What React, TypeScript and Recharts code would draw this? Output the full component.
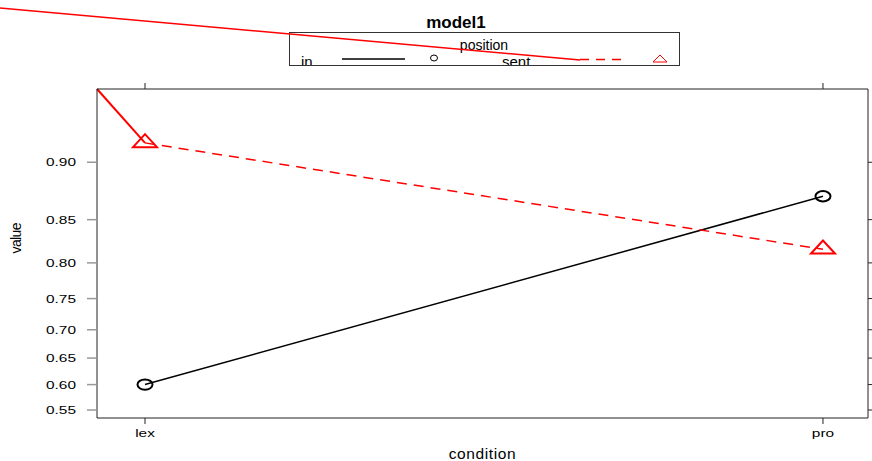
import React from "react";
import { LineChart, Line, XAxis, YAxis, ReferenceLine } from "recharts";

const categories = ["lex", "pro"];
const inValues = [0.6, 0.8725];
const sentValues = [0.9132, 0.817];
const yTickValues = [0.55, 0.6, 0.65, 0.7, 0.75, 0.8, 0.85, 0.9];
const yDomainProb = [0.534, 0.942];
const xDomain = [0.9292, 2.0664];

const logit = (p: number) => Math.log(p / (1 - p));
const invLogit = (z: number) => 1 / (1 + Math.exp(-z));

const data = categories.map((c, i) => ({
  x: i + 1,
  name: c,
  inV: logit(inValues[i]),
  sentV: logit(sentValues[i]),
}));

const yTicks = yTickValues.map(logit);
const yDomain = yDomainProb.map(logit);

const font = "'Liberation Sans', Arial, Helvetica, sans-serif";
const STRETCH = 1.4;

const CircleDot = (props: any) => {
  const { cx, cy } = props;
  if (cx == null || cy == null) return null;
  return <ellipse cx={cx} cy={cy} rx={7.5} ry={5.2} fill="none" stroke="#000" strokeWidth={2} />;
};

const TriDot = (props: any) => {
  const { cx, cy } = props;
  if (cx == null || cy == null) return null;
  const pts = `${cx - 12},${cy + 4.3} ${cx + 12},${cy + 4.3} ${cx},${cy - 8.7}`;
  return <polygon points={pts} fill="none" stroke="#ff0000" strokeWidth={2} />;
};

const YTick = (props: any) => {
  const { x, y, payload } = props;
  const label = invLogit(payload.value).toFixed(2);
  return (
    <g transform={`translate(${x},${y}) scale(${STRETCH},1)`}>
      <text x={0} y={0} dy={4} textAnchor="end" fontFamily={font} fontSize={11} fill="#000">
        {label}
      </text>
    </g>
  );
};

const XTick = (props: any) => {
  const { x, y, payload } = props;
  const label = categories[payload.value - 1] ?? "";
  return (
    <g transform={`translate(${x},${y}) scale(${STRETCH},1)`}>
      <text x={0} y={0} dy={9} textAnchor="middle" fontFamily={font} fontSize={11} fill="#000">
        {label}
      </text>
    </g>
  );
};

export default function App() {
  return (
    <div style={{ position: "fixed", left: 0, top: 0, width: 872, height: 461, background: "#fff" }}>
      <LineChart width={872} height={461} data={data} margin={{ top: 83, right: 0, bottom: 0, left: 0 }}>
        <XAxis
          dataKey="x"
          type="number"
          domain={xDomain}
          ticks={[1, 2]}
          allowDataOverflow
          height={43}
          tickSize={6}
          tickMargin={4}
          stroke="#222"
          tick={<XTick />}
          label={{ value: "condition", position: "insideBottom", offset: 2, fill: "#000", fontSize: 15.5, fontFamily: font, letterSpacing: 0.6 }}
        />
        <XAxis
          xAxisId="top"
          dataKey="x"
          type="number"
          orientation="top"
          domain={xDomain}
          ticks={[1, 2]}
          allowDataOverflow
          height={6}
          tickSize={6}
          stroke="#222"
          tickFormatter={() => ""}
        />
        <YAxis
          type="number"
          domain={yDomain}
          ticks={yTicks}
          allowDataOverflow
          width={97}
          tickSize={10}
          tickMargin={11}
          stroke="#222"
          tickLine={{ stroke: "#999", strokeWidth: 1.5 }}
          tick={<YTick />}
          label={{
            value: "value",
            angle: -90,
            position: "insideLeft",
            offset: 16,
            fill: "#000",
            fontSize: 14,
            letterSpacing: -0.6,
            fontFamily: font,
          }}
        />
        <YAxis
          yAxisId="right"
          orientation="right"
          type="number"
          domain={yDomain}
          ticks={yTicks}
          allowDataOverflow
          width={4}
          tickSize={4}
          stroke="#222"
          tickFormatter={() => ""}
        />
        <ReferenceLine
          segment={[
            { x: xDomain[0], y: yDomain[1] },
            { x: 1, y: logit(sentValues[0]) },
          ]}
          stroke="#ff0000"
          strokeWidth={2}
        />
        <Line
          dataKey="inV"
          stroke="#000"
          strokeWidth={1.5}
          dot={<CircleDot />}
          activeDot={false}
          isAnimationActive={false}
        />
        <Line
          dataKey="sentV"
          stroke="#ff0000"
          strokeWidth={1.5}
          strokeDasharray="10 7"
          dot={<TriDot />}
          activeDot={false}
          isAnimationActive={false}
        />
      </LineChart>
      <svg width={872} height={80} style={{ position: "absolute", left: 0, top: 0 }}>
        <text x={456} y={28} textAnchor="middle" fontFamily={font} fontWeight="bold" fontSize={17} fill="#000">
          model1
        </text>
        <svg x={289} y={32} width={391} height={34}>
          <rect x={0.5} y={0.5} width={390} height={33} fill="#fff" stroke="#333" strokeWidth={1} />
          <text x={195} y={18} textAnchor="middle" fontFamily={font} fontSize={14} fill="#000">
            position
          </text>
          <text x={12} y={35} fontFamily={font} fontSize={15} fill="#000">in</text>
          <line x1={53} y1={27} x2={116} y2={27} stroke="#000" strokeWidth={1.5} />
          <ellipse cx={145} cy={26} rx={3.5} ry={3} fill="none" stroke="#000" strokeWidth={1} />
          <text x={213} y={35} fontFamily={font} fontSize={15} fill="#000">sent</text>
          <line x1={291} y1={27.5} x2={336} y2={27.5} stroke="#ff0000" strokeWidth={1.5} strokeDasharray="9 7" />
          <polygon points="364,30 378,30 371,23" fill="none" stroke="#ff0000" strokeWidth={1} />
          <rect x={0.5} y={0.5} width={390} height={33} fill="none" stroke="#333" strokeWidth={1} />
        </svg>
        <line x1={0} y1={8} x2={580} y2={60} stroke="#ff0000" strokeWidth={1.5} />
      </svg>
    </div>
  );
}
